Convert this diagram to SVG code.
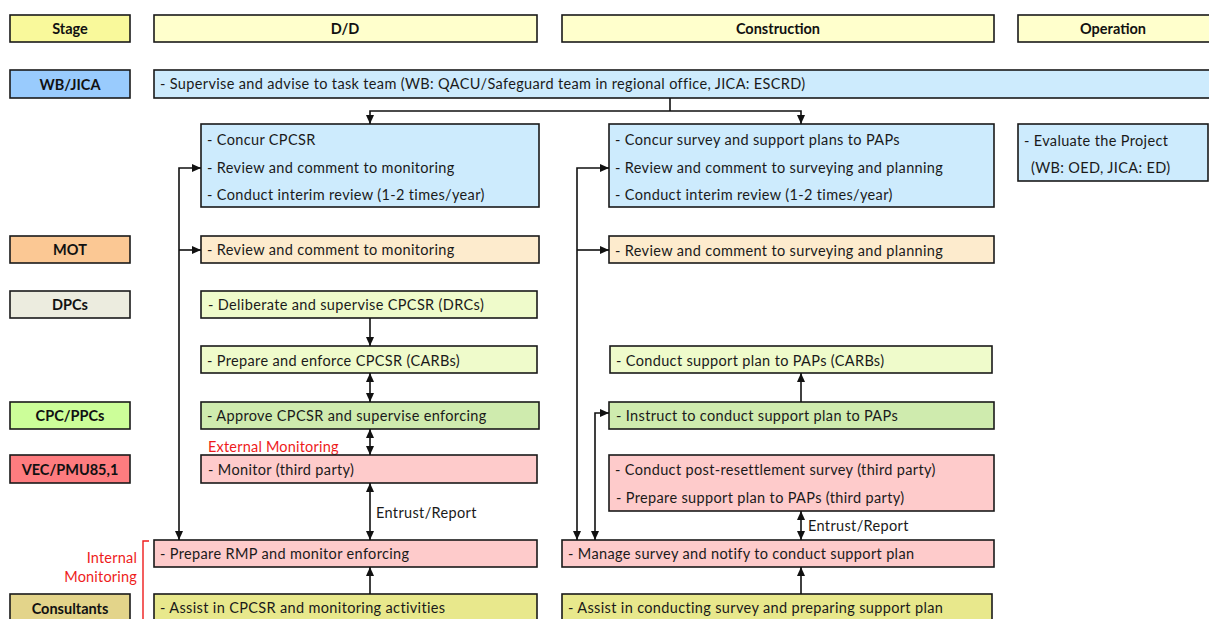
<svg xmlns="http://www.w3.org/2000/svg" width="1209" height="619" viewBox="0 0 1209 619">
<style>
  .bx{stroke:#1a1a1a;stroke-width:1.6}
  .lbl{font-family:Lato,"Liberation Sans",sans-serif;font-size:14.5px;font-weight:bold;fill:#111;text-anchor:middle}
  .t{font-family:Lato,"Liberation Sans",sans-serif;font-size:14.5px;letter-spacing:0.35px;fill:#1a1a1a}
  .red{font-family:Lato,"Liberation Sans",sans-serif;font-size:14.5px;letter-spacing:0.2px;fill:#ee1c1c}
  .ln{stroke:#111;stroke-width:1.6;fill:none}
  .stage{fill:#ffffcc}
  .wb{fill:#cdebfd}
  .mot{fill:#fdebcd}
  .dpc{fill:#effbcb}
  .cpc{fill:#cfebae}
  .vec{fill:#fecbcb}
  .con{fill:#e8e88c}
</style>
<defs>
  <marker id="ah" markerWidth="9" markerHeight="8" refX="9" refY="4" orient="auto" markerUnits="userSpaceOnUse">
    <path d="M0,0 L9,4 L0,8 Z" fill="#111"/>
  </marker>
  <marker id="as" markerWidth="9" markerHeight="8" refX="0" refY="4" orient="auto" markerUnits="userSpaceOnUse">
    <path d="M9,0 L0,4 L9,8 Z" fill="#111"/>
  </marker>
</defs>
<rect width="1209" height="619" fill="#fff"/>

<!-- row labels -->
<g id="lbl-stage"><rect class="bx" x="10" y="15" width="120" height="27" fill="#f9f99b"/><text class="lbl" x="70" y="34">Stage</text></g>
<g id="lbl-wbjica"><rect class="bx" x="10" y="70" width="120" height="28" fill="#99cbfd"/><text class="lbl" x="70" y="89.5">WB/JICA</text></g>
<g id="lbl-mot"><rect class="bx" x="10" y="236" width="120" height="27" fill="#fbc894"/><text class="lbl" x="70" y="255">MOT</text></g>
<g id="lbl-dpcs"><rect class="bx" x="10" y="291" width="120" height="27" fill="#ececdf"/><text class="lbl" x="70" y="310">DPCs</text></g>
<g id="lbl-cpc"><rect class="bx" x="10" y="402" width="120" height="27" fill="#ccfe99"/><text class="lbl" x="70" y="421">CPC/PPCs</text></g>
<g id="lbl-vec"><rect class="bx" x="10" y="455" width="120" height="28" fill="#fe7c7f"/><text class="lbl" x="70" y="474.5">VEC/PMU85,1</text></g>
<g id="lbl-consultants"><rect class="bx" x="10" y="594" width="120" height="30" fill="#e3d48a"/><text class="lbl" x="70" y="614">Consultants</text></g>

<!-- stage headers -->
<g id="hdr-dd"><rect class="bx stage" x="154" y="15" width="383" height="27"/><text class="lbl" x="345" y="34">D/D</text></g>
<g id="hdr-construction"><rect class="bx stage" x="562" y="15" width="432" height="27"/><text class="lbl" x="778" y="34">Construction</text></g>
<g id="hdr-operation"><rect class="bx stage" x="1018" y="15" width="200" height="27"/><text class="lbl" x="1113" y="34">Operation</text></g>

<!-- WB/JICA -->
<g id="wb-bar"><rect class="bx wb" x="154" y="70" width="1070" height="28"/><text class="t" x="160" y="89">- Supervise and advise to task team (WB: QACU/Safeguard team in regional office, JICA: ESCRD)</text></g>
<g id="wb-dd"><rect class="bx wb" x="201" y="124" width="338" height="83"/>
  <text class="t" x="207" y="145">- Concur CPCSR</text>
  <text class="t" x="207" y="173">- Review and comment to monitoring</text>
  <text class="t" x="207" y="200">- Conduct interim review (1-2 times/year)</text></g>
<g id="wb-con"><rect class="bx wb" x="609" y="124" width="385" height="83"/>
  <text class="t" x="615" y="145">- Concur survey and support plans to PAPs</text>
  <text class="t" x="615" y="173">- Review and comment to surveying and planning</text>
  <text class="t" x="615" y="200">- Conduct interim review (1-2 times/year)</text></g>
<g id="wb-op"><rect class="bx wb" x="1018" y="124" width="190" height="57"/>
  <text class="t" x="1024" y="146">- Evaluate the Project</text>
  <text class="t" x="1031" y="173">(WB: OED, JICA: ED)</text></g>

<!-- MOT -->
<g id="mot-dd"><rect class="bx mot" x="201" y="236" width="338" height="27"/><text class="t" x="207" y="255">- Review and comment to monitoring</text></g>
<g id="mot-con"><rect class="bx mot" x="609" y="236" width="385" height="27"/><text class="t" x="615" y="256">- Review and comment  to surveying and planning</text></g>

<!-- DPCs -->
<g id="dpc-deliberate"><rect class="bx dpc" x="201" y="291" width="336" height="27"/><text class="t" x="208" y="310">- Deliberate and supervise CPCSR (DRCs)</text></g>
<g id="dpc-prepare"><rect class="bx dpc" x="201" y="346" width="336" height="27"/><text class="t" x="207" y="366">- Prepare and enforce CPCSR (CARBs)</text></g>
<g id="dpc-conduct"><rect class="bx dpc" x="610" y="346" width="382" height="27"/><text class="t" x="616" y="366">- Conduct support plan to PAPs (CARBs)</text></g>

<!-- CPC/PPCs -->
<g id="cpc-approve"><rect class="bx cpc" x="201" y="402" width="338" height="27"/><text class="t" x="207" y="421">- Approve CPCSR and supervise enforcing</text></g>
<g id="cpc-instruct"><rect class="bx cpc" x="609" y="402" width="385" height="27"/><text class="t" x="616" y="421">- Instruct to conduct support plan to PAPs</text></g>

<!-- VEC/PMU85,1 -->
<text class="red" x="208" y="452">External Monitoring</text>
<g id="vec-monitor"><rect class="bx vec" x="201" y="455" width="336" height="28"/><text class="t" x="208" y="475">- Monitor (third party)</text></g>
<g id="vec-survey"><rect class="bx vec" x="609" y="455" width="385" height="56"/>
  <text class="t" x="615" y="475">- Conduct post-resettlement survey (third party)</text>
  <text class="t" x="616" y="503">- Prepare support plan to PAPs (third party)</text></g>
<g id="vec-rmp"><rect class="bx vec" x="154" y="540" width="383" height="27"/><text class="t" x="160" y="559">- Prepare RMP and monitor enforcing</text></g>
<g id="vec-manage"><rect class="bx vec" x="562" y="540" width="432" height="27"/><text class="t" x="568" y="559">- Manage survey and notify to conduct support plan</text></g>

<!-- Internal monitoring bracket -->
<g id="internal-monitoring">
  <text class="red" x="137" y="563" text-anchor="end">Internal</text>
  <text class="red" x="137" y="582" text-anchor="end">Monitoring</text>
  <path d="M149,541 H143 V619" fill="none" stroke="#ee1c1c" stroke-width="1.4"/>
</g>

<!-- Consultants -->
<g id="con-dd"><rect class="bx con" x="154" y="594" width="383" height="30"/><text class="t" x="160" y="613">- Assist in CPCSR and monitoring activities</text></g>
<g id="con-con"><rect class="bx con" x="562" y="594" width="430" height="30"/><text class="t" x="568" y="613">- Assist in conducting survey and preparing support plan</text></g>

<!-- connectors -->
<g id="connectors">
  <path class="ln" d="M670,98 V111"/>
  <path class="ln" d="M670,111 H370 V124" marker-end="url(#ah)"/>
  <path class="ln" d="M670,111 H801 V124" marker-end="url(#ah)"/>

  <path class="ln" d="M201,168 H179 V540" marker-start="url(#as)" marker-end="url(#ah)"/>
  <path class="ln" d="M179,250 H201" marker-end="url(#ah)"/>
  <path class="ln" d="M609,168 H577 V540" marker-start="url(#as)" marker-end="url(#ah)"/>
  <path class="ln" d="M577,250 H609" marker-end="url(#ah)"/>
  <path class="ln" d="M609,413 H595 V540" marker-start="url(#as)" marker-end="url(#ah)"/>

  <path class="ln" d="M370,318 V346" marker-end="url(#ah)"/>
  <path class="ln" d="M370,373 V402" marker-start="url(#as)" marker-end="url(#ah)"/>
  <path class="ln" d="M370,429 V455" marker-start="url(#as)" marker-end="url(#ah)"/>
  <path class="ln" d="M370,483 V540" marker-start="url(#as)" marker-end="url(#ah)"/>
  <path class="ln" d="M370,594 V567" marker-end="url(#ah)"/>

  <path class="ln" d="M801,402 V373" marker-end="url(#ah)"/>
  <path class="ln" d="M801,511 V540" marker-start="url(#as)" marker-end="url(#ah)"/>
  <path class="ln" d="M801,594 V567" marker-end="url(#ah)"/>

  <text class="t" x="376" y="518">Entrust/Report</text>
  <text class="t" x="808" y="531">Entrust/Report</text>
</g>
</svg>
